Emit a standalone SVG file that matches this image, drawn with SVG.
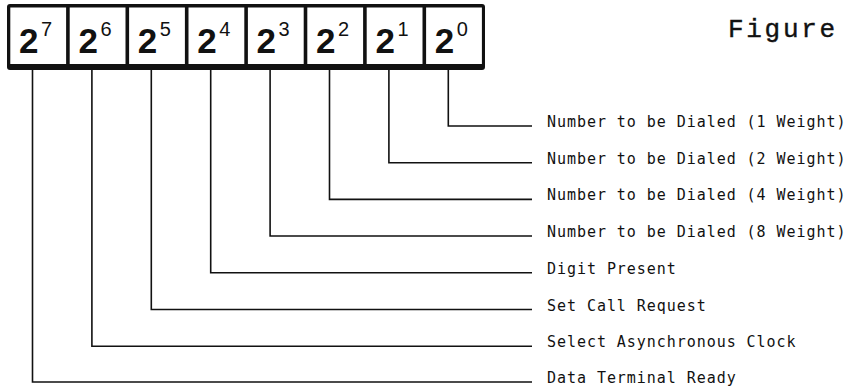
<svg xmlns="http://www.w3.org/2000/svg" width="848" height="387" viewBox="0 0 848 387">
  <style>
    .frame { fill: #111; }
    .cell { fill: #fff; }
    .base { font-family: "Liberation Sans", Arial, sans-serif; font-weight: bold; font-size: 35px; fill: #111; }
    .exp { font-family: "Liberation Sans", Arial, sans-serif; font-size: 20px; fill: #111; }
    .wire { fill: none; stroke: #111; stroke-width: 1.6; }
    .label { font-family: "DejaVu Sans Mono", monospace; font-size: 15px; letter-spacing: 0.95px; fill: #111; }
    .title { font-family: "Liberation Mono", "Courier New", monospace; font-size: 26px; letter-spacing: 2.7px; fill: #111; stroke: #111; stroke-width: 0.4; }
  </style>

  <rect width="848" height="387" fill="#fff"/>

  <!-- register frame: black body with eight white bit cells -->
  <g id="register">
    <rect class="frame" x="7" y="4" width="478" height="66" rx="3"/>
    <g id="bit7"><rect class="cell" x="10.3" y="7.5" width="55.8" height="56.5"/><text class="base" x="19" y="53">2</text><text class="exp" x="41" y="36">7</text></g>
    <g id="bit6"><rect class="cell" x="69.7" y="7.5" width="55.8" height="56.5"/><text class="base" x="78.4" y="53">2</text><text class="exp" x="100.4" y="36">6</text></g>
    <g id="bit5"><rect class="cell" x="129.1" y="7.5" width="55.8" height="56.5"/><text class="base" x="137.8" y="53">2</text><text class="exp" x="159.8" y="36">5</text></g>
    <g id="bit4"><rect class="cell" x="188.5" y="7.5" width="55.8" height="56.5"/><text class="base" x="197.2" y="53">2</text><text class="exp" x="219.2" y="36">4</text></g>
    <g id="bit3"><rect class="cell" x="247.9" y="7.5" width="55.8" height="56.5"/><text class="base" x="256.6" y="53">2</text><text class="exp" x="278.6" y="36">3</text></g>
    <g id="bit2"><rect class="cell" x="307.3" y="7.5" width="55.8" height="56.5"/><text class="base" x="316" y="53">2</text><text class="exp" x="338" y="36">2</text></g>
    <g id="bit1"><rect class="cell" x="366.7" y="7.5" width="55.8" height="56.5"/><text class="base" x="375.4" y="53">2</text><text class="exp" x="397.4" y="36">1</text></g>
    <g id="bit0"><rect class="cell" x="426.1" y="7.5" width="55.8" height="56.5"/><text class="base" x="434.8" y="53">2</text><text class="exp" x="456.8" y="36">0</text></g>
  </g>

  <text id="title" class="title" x="728" y="37">Figure</text>

  <!-- leader lines from each bit down and out to its label -->
  <g id="connectors">
    <path class="wire" d="M448.3 70 V126 H532"/>
    <path class="wire" d="M388.9 70 V162.7 H532"/>
    <path class="wire" d="M329.5 70 V199.4 H532"/>
    <path class="wire" d="M270.1 70 V236 H532"/>
    <path class="wire" d="M210.7 70 V272.8 H532"/>
    <path class="wire" d="M151.3 70 V309.5 H532"/>
    <path class="wire" d="M91.9 70 V346.2 H532"/>
    <path class="wire" d="M32.5 70 V382 H532"/>
  </g>

  <g id="labels">
    <text class="label" x="547" y="127">Number to be Dialed (1 Weight)</text>
    <text class="label" x="547" y="163.7">Number to be Dialed (2 Weight)</text>
    <text class="label" x="547" y="200.4">Number to be Dialed (4 Weight)</text>
    <text class="label" x="547" y="237">Number to be Dialed (8 Weight)</text>
    <text class="label" x="547" y="273.8">Digit Present</text>
    <text class="label" x="547" y="310.5">Set Call Request</text>
    <text class="label" x="547" y="347.2">Select Asynchronous Clock</text>
    <text class="label" x="547" y="383">Data Terminal Ready</text>
  </g>
</svg>
